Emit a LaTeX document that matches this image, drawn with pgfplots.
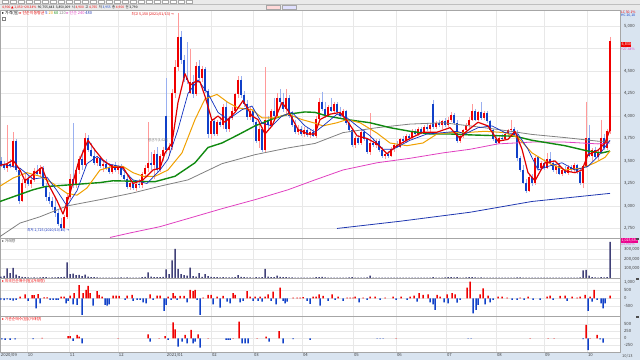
\documentclass[border=0pt]{standalone}
\usepackage{fontspec}
\setmainfont{Noto Sans CJK KR}
\newfontfamily\sym{DejaVu Sans}
\usepackage{pgfplots}
\usepackage{pgfplotstable}
\pgfplotsset{compat=1.18}
\definecolor{candR}{HTML}{F00000}
\definecolor{candB}{HTML}{1040C8}
\definecolor{wickR}{HTML}{FF9A9A}
\definecolor{wickB}{HTML}{9AB0F0}
\definecolor{maF}{HTML}{E00000}
\definecolor{maT}{HTML}{1030C0}
\definecolor{maTw}{HTML}{F0A000}
\definecolor{maS}{HTML}{108A10}
\definecolor{maH}{HTML}{808080}
\definecolor{maY}{HTML}{E040C0}
\definecolor{maL}{HTML}{2038B0}
\definecolor{volc}{HTML}{404078}
\definecolor{sbg}{HTML}{D9E4F0}
\definecolor{tbg}{HTML}{EAEAEA}

\pgfplotstableread{
x o h l c v
1 3500 3540 3430 3450 15000
4 3450 3500 3400 3420 22000
7 3420 3900 3380 3470 100000
10 3470 3520 3420 3440 50000
13 3440 3820 3420 3720 105000
16 3720 3740 3380 3400 35000
19 3400 3420 3020 3060 20000
22 3060 3300 3040 3250 12000
25 3250 3350 3200 3300 8000
28 3300 3340 3220 3240 6000
31 3240 3320 3200 3290 5000
34 3290 3420 3270 3390 7000
37 3390 3450 3340 3360 5000
40 3360 3450 3330 3420 6000
43 3420 3440 3200 3220 9000
46 3220 3260 3060 3100 8000
49 3100 3150 3020 3060 5000
52 3060 3100 2950 2990 6000
55 2990 3090 2880 2920 7000
58 2920 2960 2780 2800 9000
61 2800 2870 2725 2760 10000
64 2760 2900 2740 2880 12000
67 2880 3130 2860 3100 165000
70 3100 3350 3080 3300 40000
73 3300 3920 3200 3230 45000
76 3230 3420 3200 3400 30000
79 3400 3560 3350 3520 32000
82 3520 3620 3400 3450 20000
85 3450 3810 3430 3760 35000
88 3760 3790 3600 3620 15000
91 3620 3700 3540 3560 10000
94 3560 3640 3450 3480 8000
97 3480 3560 3440 3530 6000
100 3530 3560 3420 3440 5000
103 3440 3500 3380 3470 5000
106 3470 3520 3400 3420 4000
109 3420 3480 3350 3380 5000
112 3380 3470 3360 3450 4000
115 3450 3490 3380 3400 4000
118 3400 3460 3360 3430 5000
121 3430 3470 3320 3340 6000
124 3340 3400 3280 3300 5000
127 3300 3360 3190 3210 7000
130 3210 3280 3180 3250 5000
133 3250 3290 3180 3200 4000
136 3200 3270 3170 3240 5000
139 3240 3300 3200 3230 4000
142 3230 3380 3200 3350 8000
145 3350 3460 3320 3420 12000
148 3420 3930 3380 3480 60000
151 3480 3600 3400 3450 15000
154 3450 3620 3300 3580 10000
157 3580 3650 3380 3400 9000
160 3400 3580 3380 3550 8000
163 3550 3660 3500 3620 12000
166 4000 4420 3580 3620 90000
169 3620 3700 3560 3650 40000
172 3650 4300 3620 4250 185000
175 4250 4620 4200 4550 305000
178 4550 5150 4500 4880 95000
181 4880 4950 4580 4620 40000
184 4620 4680 4380 4420 30000
187 4420 4820 4350 4400 25000
190 4260 4750 4240 4380 110000
193 4380 4450 4200 4240 20000
196 4240 4600 4220 4560 15000
199 4560 4620 4380 4420 50000
202 4420 4560 4380 4520 12000
205 4520 4540 4250 4280 40000
208 4280 4300 3760 3800 20000
211 3800 3960 3740 3940 12000
214 3940 3970 3780 3800 10000
217 3800 3960 3780 3930 8000
220 3930 3990 3880 3900 6000
223 3900 4130 3860 4100 8000
226 4100 4150 3820 3850 7000
229 3850 4000 3820 3980 6000
232 3980 4100 3950 4060 6000
235 4060 4260 4040 4240 10000
238 4240 4440 4200 4400 30000
241 4400 4440 4200 4230 12000
244 4230 4280 4100 4130 8000
247 4130 4180 3960 3990 7000
250 3990 4100 3960 4060 6000
253 4060 4090 3900 3930 5000
256 3930 3960 3700 3720 8000
259 3720 3900 3640 3860 7000
262 3860 3880 3600 3620 9000
265 3620 4540 3600 3950 95000
268 3950 4000 3850 3900 15000
271 3900 4080 3880 4050 10000
274 4050 4200 3950 4000 8000
277 4000 4250 3980 4200 25000
280 4200 4300 4100 4150 12000
283 4150 4260 4040 4080 8000
286 4080 4300 4000 4200 10000
289 4200 4230 3980 4000 7000
292 4000 4050 3880 3900 6000
295 3900 3960 3800 3820 5000
298 3820 3900 3790 3860 4000
301 3860 3890 3780 3800 4000
304 3800 3880 3770 3840 5000
307 3840 3870 3770 3790 4000
310 3790 3840 3760 3820 4000
313 3820 3850 3770 3780 5000
316 3780 4000 3760 3970 8000
319 3970 4200 3950 4160 10000
322 4160 4270 4050 4080 12000
325 4080 4150 3980 4000 6000
328 4000 4120 3990 4100 5000
331 4100 4200 4040 4060 4000
334 4060 4160 4030 4130 5000
337 4130 4150 4020 4040 4000
340 4040 4100 3980 4000 4000
343 4000 4080 3960 4050 4000
346 4050 4070 3900 3920 5000
349 3920 3950 3820 3840 6000
352 3840 3870 3650 3680 8000
355 3680 3780 3640 3760 5000
358 3760 3790 3680 3700 4000
361 3700 3860 3680 3820 5000
364 3820 3840 3720 3740 4000
367 3740 3760 3580 3600 6000
370 3600 4030 3570 3700 25000
373 3700 3750 3650 3680 5000
376 3680 3740 3640 3720 4000
379 3720 3740 3600 3620 4000
382 3620 3660 3530 3550 5000
385 3550 3600 3520 3580 4000
388 3580 3610 3530 3560 3000
391 3560 3650 3540 3630 4000
394 3630 3700 3600 3680 5000
397 3680 3720 3640 3660 4000
400 3660 3760 3640 3740 4000
403 3740 3780 3700 3720 3000
406 3720 3800 3700 3780 4000
409 3780 3800 3730 3750 3000
412 3750 3850 3730 3830 4000
415 3830 3860 3780 3800 3000
418 3800 3880 3780 3860 4000
421 3860 3880 3800 3820 3000
424 3820 3900 3800 3880 4000
427 3880 3920 3830 3850 3000
430 3850 3920 3820 3900 4000
433 4130 4180 3860 3880 8000
436 3880 3940 3850 3920 5000
439 3920 3960 3880 3900 4000
442 3900 3960 3860 3940 5000
445 3940 3980 3880 3900 6000
448 3900 3990 3880 3960 8000
451 3960 4040 3930 4010 10000
454 4010 4030 3900 3920 6000
457 3920 3950 3700 3720 8000
460 3720 3800 3700 3780 5000
463 3780 3860 3760 3840 5000
466 3840 3920 3820 3900 6000
469 3900 3990 3870 3960 8000
472 3960 4130 3940 4050 10000
475 4050 4080 3940 3960 6000
478 3960 4060 3940 4040 5000
481 4040 4150 3960 3980 6000
484 3980 4060 3950 4030 5000
487 4030 4050 3920 3940 4000
490 3940 3960 3820 3840 4000
493 3840 3860 3720 3740 5000
496 3740 3780 3680 3700 4000
499 3700 3780 3690 3760 3000
502 3760 3800 3720 3740 3000
505 3740 3820 3730 3800 3000
508 3800 3860 3770 3840 4000
511 3840 3960 3820 3860 5000
514 3860 3880 3770 3790 4000
517 3790 3840 3500 3530 6000
520 3530 3560 3380 3400 6000
523 3400 3450 3240 3260 5000
526 3260 3300 3140 3170 5000
529 3170 3340 3150 3320 4000
532 3320 3350 3220 3250 3000
535 3250 3560 3230 3530 4000
538 3540 3560 3400 3420 3000
541 3420 3500 3400 3480 3000
544 3480 3520 3400 3420 3000
547 3420 3590 3410 3520 4000
550 3520 3600 3460 3480 3000
553 3480 3510 3380 3400 3000
556 3400 3460 3360 3440 3000
559 3440 3470 3340 3360 3000
562 3360 3420 3330 3400 3000
565 3400 3440 3350 3370 3000
568 3370 3460 3340 3430 3000
571 3430 3450 3380 3400 3000
574 3400 3480 3370 3450 4000
577 3450 3470 3360 3380 4000
580 3380 3420 3230 3250 6000
583 3250 3460 3200 3440 80000
586 3440 4160 3420 3750 85000
589 3750 3900 3540 3560 25000
592 3560 3640 3500 3620 8000
595 3620 3660 3520 3540 6000
598 3540 3620 3510 3600 5000
601 3600 3960 3580 3760 10000
604 3760 3800 3620 3640 6000
607 3640 3860 3620 3830 8000
610 3830 4880 3800 4830 380000
}\candles
% red / blue body lengths and wick lengths (zero for the other colour)
\pgfplotstablecreatecol[create col/expr={max(\thisrow{c}-\thisrow{o},0)}]{rb}{\candles}
\pgfplotstablecreatecol[create col/expr={max(\thisrow{o}-\thisrow{c},0)}]{bb}{\candles}
\pgfplotstablecreatecol[create col/expr={ifthenelse(\thisrow{c}<\thisrow{o},0,\thisrow{h}-\thisrow{l})}]{rw}{\candles}
\pgfplotstablecreatecol[create col/expr={ifthenelse(\thisrow{c}<\thisrow{o},\thisrow{h}-\thisrow{l},0)}]{bw}{\candles}

\pgfplotsset{
  panel/.style={scale only axis, width=620bp, xmin=0, xmax=620,
    axis line style={draw=black!35, line width=0.6bp},
    grid style={draw=black!9, line width=0.7bp},
    xmajorgrids, ymajorgrids,
    xtick={0,27,69,118,166,211,253,302,353,396,446,496,544,587},
    xticklabels={}, major tick length=0pt, tick style={draw=none},
    yticklabel pos=right,
    yticklabel style={font=\fontsize{4.3}{5}\selectfont, text=black!75, anchor=west, xshift=0.5bp},
    scaled y ticks=false,
    /pgf/number format/fixed,
    /pgf/number format/1000 sep={,},
    /pgf/number format/assume math mode=true},
  barsty/.style={ybar, bar width=1.5bp, bar shift=0pt, draw=none, forget plot},
  cndl/.style 2 args={draw=none, mark=none, forget plot, error bars/.cd, y dir=minus, y explicit,
    error mark=none, error bar style={line width=#1, draw=#2, line cap=butt, solid}},
}

\begin{document}
\begin{tikzpicture}
\useasboundingbox (0bp,0bp) rectangle (640bp,360bp);
\fill[tbg] (0bp,350bp) rectangle (640bp,360bp);
\fill[sbg] (620bp,0bp) rectangle (640bp,350bp);
\fill[sbg] (0bp,0bp) rectangle (640bp,8bp);
\draw[black!25, line width=0.4bp] (0bp,355.5bp) -- (640bp,355.5bp);

% ---------------- main price panel
\begin{axis}[panel, height=228bp, at={(0bp,122bp)}, anchor=south west,
  ymin=2644, ymax=5178, ytick={2750,3000,3250,3500,3750,4000,4250,4500,4750,5000},
  yticklabels={{2,750},{3,000},{3,250},{3,500},{3,750},{4,000},{4,250},{4,500},{},{5,000}}]
\addplot[cndl={0.6bp}{wickR}] table[x=x, y=h, y error minus=rw] {\candles};
\addplot[cndl={0.6bp}{wickB}] table[x=x, y=h, y error minus=bw] {\candles};
\addplot[cndl={1.8bp}{candR}] table[x=x, y=c, y error minus=rb] {\candles};
\addplot[cndl={1.8bp}{candB}] table[x=x, y=o, y error minus=bb] {\candles};
% moving averages
\addplot[maL, line width=0.8bp] coordinates {(337,2750)(400,2830)(470,2930)(532,3050)(610,3140)};
\addplot[maY, line width=0.8bp] coordinates {(110,2650)(130,2700)(160,2770)(188,2860)(222,2970)(255,3070)(288,3180)(315,3290)(343,3400)(377,3480)(410,3530)(443,3590)(470,3630)(498,3690)(532,3710)(565,3710)(598,3690)(610,3700)};
\addplot[maH, line width=0.8bp] coordinates {(0,2660)(20,2810)(40,2880)(67,3000)(100,3070)(133,3145)(160,3220)(188,3290)(222,3470)(255,3570)(288,3645)(315,3695)(343,3815)(377,3870)(410,3910)(443,3925)(470,3890)(498,3850)(532,3795)(565,3760)(598,3720)(610,3720)};
\addplot[maS, line width=1.4bp] coordinates {(0,3050)(33,3180)(45,3215)(70,3235)(100,3260)(113,3280)(133,3275)(155,3270)(175,3330)(195,3480)(208,3650)(222,3700)(238,3790)(255,3890)(272,3965)(288,4020)(305,4045)(315,4040)(327,4000)(347,3960)(370,3925)(390,3870)(410,3830)(430,3800)(450,3800)(470,3790)(515,3775)(532,3730)(565,3670)(588,3610)(602,3590)(610,3610)};
\addplot[maTw, line width=1bp] coordinates {(0,3220)(13,3310)(27,3370)(40,3330)(53,3250)(67,3140)(77,3120)(87,3200)(100,3400)(113,3440)(123,3440)(133,3370)(143,3330)(155,3330)(168,3400)(182,3590)(195,3960)(205,4190)(217,4240)(228,4150)(238,4090)(252,4070)(262,3980)(275,3980)(288,4020)(302,3960)(315,3920)(323,3890)(337,3925)(347,3960)(360,3925)(377,3810)(390,3700)(407,3670)(423,3700)(437,3800)(450,3815)(465,3815)(485,3830)(505,3815)(518,3760)(532,3590)(548,3480)(565,3400)(582,3420)(595,3480)(605,3540)(610,3610)};
\addplot[maT, line width=0.7bp] coordinates {(0,3470)(20,3420)(33,3300)(47,3320)(57,3170)(67,3000)(77,3170)(87,3470)(97,3550)(107,3470)(120,3440)(133,3290)(147,3250)(160,3400)(168,3520)(178,3850)(188,4250)(198,4400)(208,4250)(218,4040)(228,3960)(242,4070)(252,4110)(262,3920)(272,3890)(282,4000)(292,4040)(305,3890)(315,3820)(323,3890)(337,4020)(347,3980)(357,3890)(370,3780)(383,3630)(393,3630)(410,3730)(427,3800)(443,3815)(457,3830)(465,3800)(478,3870)(492,3890)(505,3815)(518,3800)(528,3630)(538,3400)(548,3440)(562,3480)(575,3400)(588,3440)(598,3550)(610,3730)};
\addplot[maF, line width=1.2bp, line join=round] coordinates {(0,3450)(7,3470)(13,3510)(20,3400)(25,3280)(33,3350)(42,3430)(48,3250)(57,3060)(63,2910)(70,3140)(78,3470)(88,3730)(95,3620)(103,3510)(113,3430)(123,3430)(133,3250)(143,3290)(153,3400)(160,3420)(165,3590)(172,3700)(178,4150)(185,4470)(190,4340)(195,4380)(200,4380)(205,4220)(212,3950)(218,4000)(225,3930)(235,4040)(243,4170)(252,4000)(258,3960)(265,3800)(272,3890)(282,4150)(288,4060)(298,3850)(308,3800)(315,3800)(320,3960)(330,4020)(340,4040)(347,3950)(357,3780)(367,3750)(377,3690)(387,3580)(397,3670)(410,3750)(423,3820)(437,3820)(450,3870)(460,3750)(465,3815)(478,3930)(488,3890)(498,3720)(508,3740)(515,3830)(522,3630)(528,3370)(535,3280)(545,3480)(555,3500)(565,3390)(575,3370)(582,3400)(588,3570)(598,3620)(605,3700)(610,3850)};
\end{axis}

% ---------------- volume panel
\begin{axis}[panel, height=40bp, at={(0bp,82bp)}, anchor=south west,
  ymin=0, ymax=420000, ytick={100000,200000,300000}]
\addplot[barsty, fill=volc] table[x=x, y=v] {\candles};
\end{axis}

% ---------------- foreign net buying panel
\begin{axis}[panel, height=38bp, at={(0bp,44bp)}, anchor=south west,
  ymin=-1120, ymax=1285, ytick={-500,0,500,1000}]
\addplot[barsty, fill=candR] coordinates {(20,100)(25,250)(32,200)(34,200)(38,270)(44,60)(47,60)(61,100)(64,100)(70,170)(74,320)(79,840)(83,320)(86,530)(88,780)(90,320)(97,460)(99,210)(102,100)(113,170)(116,170)(119,150)(127,170)(132,210)(150,250)(157,170)(160,170)(168,100)(173,320)(175,150)(180,150)(184,150)(190,530)(193,450)(195,530)(203,40)(208,210)(211,210)(217,100)(223,150)(233,320)(235,210)(247,460)(250,100)(255,100)(260,100)(265,100)(268,250)(273,420)(280,680)(293,40)(297,40)(300,40)(303,80)(313,100)(316,100)(319,250)(323,150)(332,250)(338,100)(347,40)(350,40)(353,40)(355,100)(363,40)(370,100)(375,100)(385,40)(393,100)(401,100)(410,100)(414,170)(419,320)(423,210)(428,250)(437,210)(440,100)(447,250)(452,320)(455,250)(467,675)(470,1050)(480,250)(483,630)(488,170)(498,100)(502,100)(507,40)(520,40)(528,100)(547,100)(550,170)(560,150)(565,170)(572,100)(577,40)(580,100)(585,210)(590,100)(594,530)(610,170)};
\addplot[barsty, fill=candB] coordinates {(1,-80)(4,-120)(7,-60)(10,-100)(13,-150)(16,-100)(28,-170)(36,-630)(40,-320)(50,-100)(53,-100)(56,-100)(58,-100)(66,-320)(68,-170)(73,-380)(77,-420)(82,-1050)(93,-460)(105,-420)(107,-460)(109,-380)(125,-100)(133,-170)(137,-100)(140,-100)(143,-250)(146,-320)(153,-100)(164,-800)(166,-420)(171,-100)(177,-100)(187,-250)(197,-100)(200,-1050)(213,-380)(220,-590)(227,-210)(230,-320)(240,-250)(243,-170)(253,-170)(258,-170)(262,-210)(271,-170)(276,-380)(283,-170)(285,-320)(287,-210)(307,-170)(310,-360)(320,-460)(328,-170)(335,-100)(343,-170)(359,-250)(367,-100)(380,-100)(396,-100)(407,-100)(417,-210)(430,-250)(433,-380)(435,-740)(444,-250)(448,-320)(457,-270)(460,-100)(473,-950)(476,-740)(478,-420)(485,-380)(490,-250)(493,-100)(512,-100)(517,-100)(524,-100)(533,-100)(540,-100)(553,-100)(567,-170)(588,-800)(592,-210)(597,-100)(601,-320)(603,-630)(605,-320)};
\end{axis}

% ---------------- institution net buying panel
\begin{axis}[panel, height=36bp, at={(0bp,8bp)}, anchor=south west,
  ymin=-490, ymax=800, ytick={-250,0,250,500},
  xticklabels={2020/09,10,11,12,2021/01,02,03,04,05,06,07,08,09,10},
  xticklabel style={font=\fontsize{4.3}{5}\selectfont, text=black!75, anchor=north west, inner sep=0.8bp}]
\addplot[barsty, fill=candR] coordinates {(42,20)(68,80)(70,80)(77,120)(79,60)(118,10)(148,140)(159,10)(165,80)(173,570)(175,320)(185,120)(191,300)(198,140)(208,5)(233,10)(239,600)(257,10)(266,60)(279,260)(396,5)(530,5)(548,5)(554,5)(586,480)(590,5)(597,120)};
\addplot[barsty, fill=candB] coordinates {(2,-40)(5,-60)(10,-60)(15,-40)(33,-25)(73,-95)(82,-180)(150,-120)(168,-60)(178,-300)(182,-120)(187,-180)(193,-180)(195,-120)(200,-330)(226,-60)(228,-60)(230,-60)(242,-180)(245,-180)(248,-180)(269,-120)(283,-180)(293,-25)(310,-60)(377,-10)(380,-10)(383,-10)(468,-10)(471,-10)(583,-25)(588,-420)(600,-40)(603,-150)};
\end{axis}

% ---------------- annotations
\node[anchor=west, inner sep=0, font=\fontsize{4}{4}\selectfont] at (2bp,346.5bp)
  {{\sym ▸} 가격(일) \textcolor{maF}{{\sym ▸} 단순이동평균} \textcolor{maT}{5} \textcolor{maTw}{20} \textcolor{maS}{60} \textcolor{maH}{120} \textcolor{maY}{{\sym ▸} 단순 240} \textcolor{maL}{480}};
\draw[black!50, line width=0.4bp] (2bp,340bp) rectangle (5bp,343bp);
\node[anchor=east, inner sep=0, text=maF, font=\fontsize{3.6}{4}\selectfont] at (174bp,345.5bp) {최고 5,150 (2021/01/13) {\sym →}};
\node[anchor=west, inner sep=0, text=maT, font=\fontsize{3.6}{4}\selectfont] at (27bp,130bp) {최저 2,725 (2020/10/30) {\sym →}};
\node[anchor=west, inner sep=0, text=black!55, font=\fontsize{3.4}{4}\selectfont] at (148bp,220bp) {평균가(3,625)};
% right labels
\node[anchor=west, inner sep=0.4bp, fill=candR, text=white, font=\fontsize{3.8}{4}\selectfont] at (621bp,315.5bp) {4,830};
\node[anchor=west, inner sep=0, text=maY, font=\fontsize{3.4}{4}\selectfont] at (621bp,311bp) {+27.44\%};
\node[anchor=west, inner sep=0, text=candR, font=\fontsize{3.4}{4}\selectfont] at (621bp,347.5bp) {LC 30.1\%};
\node[anchor=west, inner sep=0, text=candB, font=\fontsize{3.4}{4}\selectfont] at (621bp,344.5bp) {HC 26,18};
\node[anchor=west, inner sep=0.4bp, fill=magenta, text=white, font=\fontsize{3.6}{4}\selectfont] at (621bp,119.5bp) {1,023,636};
\node[anchor=west, inner sep=0, text=maY, font=\fontsize{3.4}{4}\selectfont] at (621bp,115.5bp) {13,955\%};
\fill[black!70] (636bp,120bp) rectangle (638.5bp,122bp);
\fill[black!70] (636bp,80bp) rectangle (638.5bp,82bp);
\fill[black!70] (636bp,42bp) rectangle (638.5bp,44bp);
\node[anchor=west, inner sep=0, text=black!70, font=\fontsize{4}{4}\selectfont] at (622bp,4bp) {10/13};
% panel titles
\node[anchor=west, inner sep=0, text=black!70, font=\fontsize{3.8}{4}\selectfont] at (2bp,119bp) {{\sym ▸} 거래량};
\node[anchor=west, inner sep=0, text=candR, font=\fontsize{3.8}{4}\selectfont] at (2bp,79bp) {{\sym ▸} 외국인순매수(일)(거래량)};
\node[anchor=west, inner sep=0, text=candR, font=\fontsize{3.8}{4}\selectfont] at (2bp,41bp) {{\sym ▸} 기관순매수(일)(거래량)};
% toolbar
\foreach \xx in {2,10,18,26,34,42,50,58,66,74,82,90,98,106,114,122,130,138,146,154,162,170,178,186}
  \draw[black!35, line width=0.3bp, fill=white] (\xx bp,356.5bp) rectangle ++(6bp,3bp);
\node[anchor=west, inner sep=0, font=\fontsize{3.3}{4}\selectfont] at (2bp,352.8bp)
  {\textcolor{candR}{4,900 {\sym ▲} 1,050 +28.34\%} \ 90,755,443 \ 3,850,009 \ 시 \textcolor{candR}{4,900} \ 고 \textcolor{candR}{4,765} \ 저 \textcolor{candB}{3,955} \ 종 \textcolor{candR}{4,900} \ 전 3,790};
\draw[black!35, line width=0.3bp, fill=red!15] (266bp,351bp) rectangle (280bp,354.5bp);
\draw[black!35, line width=0.3bp, fill=blue!12] (282bp,351bp) rectangle (296bp,354.5bp);
\end{tikzpicture}
\end{document}
